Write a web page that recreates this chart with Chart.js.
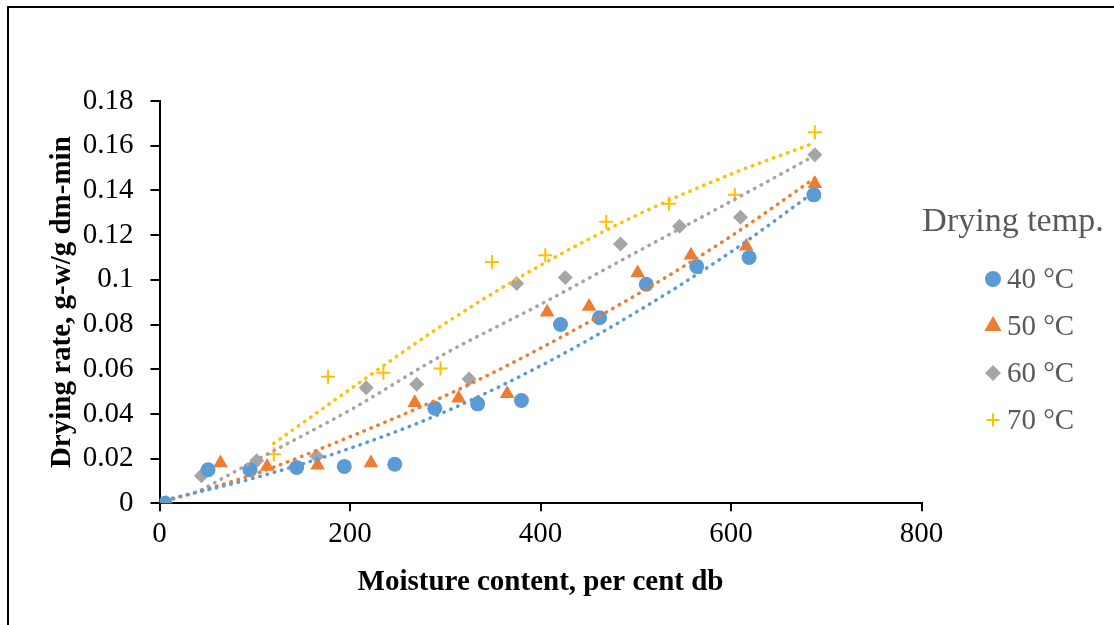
<!DOCTYPE html>
<html>
<head>
<meta charset="utf-8">
<script src="https://cdn.jsdelivr.net/npm/chart.js@4.4.1/dist/chart.umd.min.js"></script>
<style>
  html, body { margin: 0; padding: 0; background: #fff; }
  #wrap { width: 1114px; height: 625px; position: relative; }
</style>
</head>
<body>
<div id="wrap"><canvas id="dryingChart"></canvas></div>
<script>
// Drying rate vs moisture content
const moisture40 = [6, 51, 95, 144, 194, 247, 289, 334, 380, 421, 462, 511, 564, 619, 687];
const rate40 = [0, 0.015, 0.015, 0.016, 0.0165, 0.0175, 0.0425, 0.0445, 0.046, 0.080, 0.083, 0.098, 0.106, 0.110, 0.138];

const moisture50 = [7, 64, 113, 166, 222, 268, 314, 365, 407, 451, 502, 558, 616, 688];
const rate50 = [0, 0.018, 0.0165, 0.017, 0.018, 0.045, 0.047, 0.049, 0.0855, 0.088, 0.103, 0.111, 0.115, 0.143];

const moisture60 = [44, 102, 165, 217, 270, 325, 375, 426, 484, 546, 610, 688];
const rate60 = [0.0123, 0.019, 0.021, 0.0517, 0.0533, 0.0556, 0.0983, 0.101, 0.116, 0.124, 0.128, 0.156];

const moisture70 = [120, 177, 235, 295, 349, 405, 469, 535, 604, 688];
const rate70 = [0.022, 0.0566, 0.0584, 0.0603, 0.108, 0.111, 0.126, 0.134, 0.138, 0.166];

// dotted trendlines
const trendX40 = [6, 100, 200, 300, 400, 500, 600, 688];
const trendY40 = [0.0015, 0.0114, 0.0246, 0.041, 0.0615, 0.0854, 0.1125, 0.1395];
const trendX50 = [7, 100, 200, 300, 400, 500, 600, 688];
const trendY50 = [0.001, 0.0131, 0.0298, 0.0481, 0.0694, 0.0931, 0.1195, 0.1455];
const trendX60 = [44, 100, 200, 300, 400, 500, 600, 688];
const trendY60 = [0.006, 0.019, 0.0417, 0.067, 0.089, 0.1122, 0.1351, 0.1556];
const trendX70 = [120, 200, 300, 400, 500, 600, 688];
const trendY70 = [0.0268, 0.051, 0.0805, 0.1065, 0.1287, 0.1473, 0.1613];

const seriesNames = ['40 °C', '50 °C', '60 °C', '70 °C'];
const xTicks = [0, 200, 400, 600, 800];
const yTicks = [0, 0.02, 0.04, 0.06, 0.08, 0.1, 0.12, 0.14, 0.16, 0.18];

const COLORS = ['#5B9BD5', '#ED7D31', '#A5A5A5', '#FFC000'];
const STYLES = ['circle', 'triangle', 'rectRot', 'cross'];
const RADII = [7.5, 8.5, 7.5, 7];
const FONT = '"Liberation Serif", "Times New Roman", serif';

const toPoints = (xs, ys) => xs.map((x, i) => ({ x: x, y: ys[i] }));

const trendSets = [
  [trendX40, trendY40], [trendX50, trendY50], [trendX60, trendY60], [trendX70, trendY70]
].map(([xs, ys], i) => ({
  label: 'trend ' + seriesNames[i],
  type: 'line',
  data: toPoints(xs, ys),
  borderColor: COLORS[i],
  borderWidth: 3.5,
  borderDash: [0.5, 7],
  borderCapStyle: 'round',
  cubicInterpolationMode: 'monotone',
  pointRadius: 0,
  fill: false,
  showLine: true
}));

const markerSets = [
  [moisture40, rate40], [moisture50, rate50], [moisture60, rate60], [moisture70, rate70]
].map(([xs, ys], i) => ({
  label: seriesNames[i],
  data: toPoints(xs, ys),
  pointStyle: STYLES[i],
  pointRadius: RADII[i],
  pointHoverRadius: RADII[i],
  backgroundColor: COLORS[i],
  borderColor: COLORS[i],
  borderWidth: STYLES[i] === 'cross' ? 2 : 0,
  showLine: false
}));

// frame around the figure + legend on the right
const frameAndLegend = {
  id: 'frameAndLegend',
  beforeDraw(chart) {
    const ctx = chart.ctx;
    ctx.save();
    ctx.fillStyle = '#fff';
    ctx.fillRect(0, 0, chart.width, chart.height);
    ctx.restore();
  },
  afterDraw(chart) {
    const ctx = chart.ctx;
    ctx.save();
    ctx.strokeStyle = '#000';
    ctx.lineWidth = 2;
    ctx.beginPath();
    ctx.moveTo(8, chart.height);
    ctx.lineTo(8, 7);
    ctx.lineTo(chart.width, 7);
    ctx.stroke();

    ctx.fillStyle = '#595959';
    ctx.textBaseline = 'middle';
    ctx.textAlign = 'center';
    ctx.font = '34px ' + FONT;
    ctx.fillText('Drying temp.', 1013, 222);

    ctx.font = '29px ' + FONT;
    ctx.textAlign = 'left';
    const legendRadii = [7, 8, 6.5, 6.5];
    seriesNames.forEach((name, i) => {
      const y = 279 + i * 47;
      ctx.fillStyle = COLORS[i];
      ctx.strokeStyle = COLORS[i];
      ctx.lineWidth = 2;
      if (Chart.helpers && Chart.helpers.drawPoint) {
        Chart.helpers.drawPoint(ctx, { pointStyle: STYLES[i], radius: legendRadii[i], rotation: 0, borderWidth: 2 }, 993, y);
      } else {
        ctx.beginPath();
        ctx.arc(993, y, legendRadii[i], 0, Math.PI * 2);
        ctx.fill();
      }
      ctx.fillStyle = '#595959';
      ctx.fillText(name, 1007, y + 1);
    });
    ctx.restore();
  }
};

const tickFont = { family: FONT, size: 29 };
const titleFont = { family: FONT, size: 29, weight: 'bold' };

new Chart(document.getElementById('dryingChart'), {
  type: 'scatter',
  data: { datasets: [...trendSets, ...markerSets] },
  options: {
    responsive: true,
    maintainAspectRatio: false,
    animation: false,
    layout: { padding: { left: 9, top: 101, right: 192.5, bottom: 20 } },
    plugins: {
      legend: { display: false },
      tooltip: { enabled: false }
    },
    scales: {
      x: {
        type: 'linear',
        min: xTicks[0],
        max: xTicks[xTicks.length - 1],
        afterBuildTicks: scale => { scale.ticks = xTicks.map(v => ({ value: v })); },
        afterFit: scale => { scale.height = 625 - 20 - 503.3; },
        grid: { drawOnChartArea: false, color: '#000', lineWidth: 2, tickLength: 8 },
        border: { color: '#000', width: 2 },
        ticks: { font: tickFont, color: '#000', padding: 6, maxRotation: 0 },
        title: {
          display: true,
          text: 'Moisture content, per cent db',
          font: titleFont,
          color: '#000',
          padding: { top: 0, bottom: 5 }
        }
      },
      y: {
        type: 'linear',
        min: yTicks[0],
        max: yTicks[yTicks.length - 1],
        afterBuildTicks: scale => { scale.ticks = yTicks.map(v => ({ value: v })); },
        afterFit: scale => { scale.width = 159.5 - 9; },
        grid: { drawOnChartArea: false, color: '#000', lineWidth: 2, tickLength: 9 },
        border: { color: '#000', width: 2 },
        ticks: {
          font: tickFont,
          color: '#000',
          padding: 17,
          callback: v => String(Number(v.toFixed(2)))
        },
        title: {
          display: true,
          text: 'Drying rate, g-w/g dm-min',
          font: titleFont,
          color: '#000',
          padding: { top: 36, bottom: 0 }
        }
      }
    }
  },
  plugins: [frameAndLegend]
});
</script>
</body>
</html>
